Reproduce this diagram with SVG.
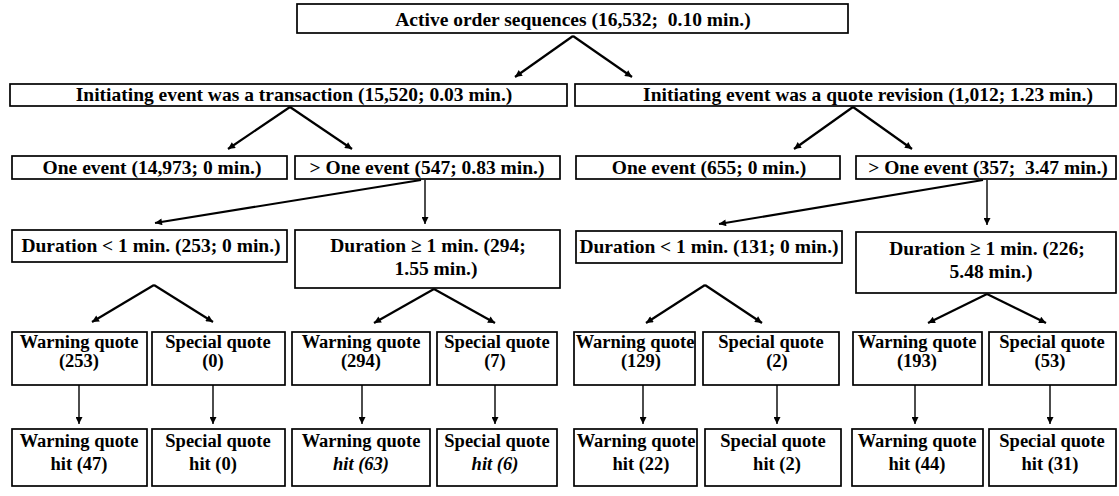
<svg xmlns="http://www.w3.org/2000/svg" width="1119" height="496" viewBox="0 0 1119 496">
<style>
.b{fill:#fff;stroke:#000;stroke-width:1.7}
text{font-family:"Liberation Serif","Times New Roman",serif;font-weight:bold;font-size:19.5px;fill:#000;text-anchor:middle}
.s text{font-size:18.5px}
.it{font-style:italic}
.c{fill:none;stroke:#000;stroke-width:2.2}
.v{fill:none;stroke:#000;stroke-width:1.4}
</style>
<defs>
<marker id="ah" viewBox="0 0 10 10" refX="10" refY="5" markerWidth="8" markerHeight="7" markerUnits="userSpaceOnUse" orient="auto">
<path d="M0,0 L10,5 L0,10 z" fill="#000"/>
</marker>
</defs>
<rect width="1119" height="496" fill="#fff"/>

<g id="connectors">
<path class="c" marker-end="url(#ah)" d="M573,36 L515,77"/>
<path class="c" marker-end="url(#ah)" d="M573,36 L632,77"/>
<path class="c" marker-end="url(#ah)" d="M290,107 L228,149"/>
<path class="c" marker-end="url(#ah)" d="M290,107 L352,149"/>
<path class="c" marker-end="url(#ah)" d="M853,107 L794,149"/>
<path class="c" marker-end="url(#ah)" d="M853,107 L912,149"/>
<path class="c" marker-end="url(#ah)" d="M421,180 L155,223"/>
<path class="v" marker-end="url(#ah)" d="M425,180 L425,224"/>
<path class="c" marker-end="url(#ah)" d="M983,180 L719,224"/>
<path class="v" marker-end="url(#ah)" d="M987,180 L987,225"/>
<path class="c" marker-end="url(#ah)" d="M154,285 L92,322"/>
<path class="c" marker-end="url(#ah)" d="M154,285 L213,322"/>
<path class="c" marker-end="url(#ah)" d="M434,289 L374,323"/>
<path class="c" marker-end="url(#ah)" d="M434,289 L495,323"/>
<path class="c" marker-end="url(#ah)" d="M705,285 L646,323"/>
<path class="c" marker-end="url(#ah)" d="M705,285 L762,323"/>
<path class="c" marker-end="url(#ah)" d="M987,294 L928,323"/>
<path class="c" marker-end="url(#ah)" d="M987,294 L1046,323"/>
<path class="v" marker-end="url(#ah)" d="M79,385 L79,424"/>
<path class="v" marker-end="url(#ah)" d="M213,385 L213,424"/>
<path class="v" marker-end="url(#ah)" d="M362,385 L362,424"/>
<path class="v" marker-end="url(#ah)" d="M495,385 L495,424"/>
<path class="v" marker-end="url(#ah)" d="M643,385 L643,424"/>
<path class="v" marker-end="url(#ah)" d="M777,385 L777,424"/>
<path class="v" marker-end="url(#ah)" d="M915,385 L915,424"/>
<path class="v" marker-end="url(#ah)" d="M1050,385 L1050,424"/>
</g>

<g id="n-root"><rect class="b" x="297" y="4" width="551" height="29"/><text x="573" y="26">Active order sequences (16,532;&#160; 0.10 min.)</text></g>

<g id="n-trans"><rect class="b" x="10" y="84" width="557" height="22"/><text x="294" y="101">Initiating event was a transaction (15,520; 0.03 min.)</text></g>
<g id="n-quote"><rect class="b" x="575" y="84" width="541" height="22"/><text x="868" y="101">Initiating event was a quote revision (1,012; 1.23 min.)</text></g>

<g id="n-t-one"><rect class="b" x="12" y="156" width="275" height="23"/><text x="152" y="174">One event (14,973; 0 min.)</text></g>
<g id="n-t-more"><rect class="b" x="295" y="156" width="265" height="23"/><text x="427" y="174">&gt; One event (547; 0.83 min.)</text></g>
<g id="n-q-one"><rect class="b" x="576" y="156" width="264" height="23"/><text x="709" y="174">One event (655; 0 min.)</text></g>
<g id="n-q-more"><rect class="b" x="856" y="156" width="260" height="23"/><text x="988" y="174">&gt; One event (357;&#160; 3.47 min.)</text></g>

<g id="n-t-short"><rect class="b" x="12" y="230" width="275" height="32"/><text x="151" y="252">Duration &lt; 1 min. (253; 0 min.)</text></g>
<g id="n-t-long"><rect class="b" x="295" y="230" width="265" height="58"/><text x="428" y="252">Duration ≥ 1 min. (294;</text><text x="436" y="275">1.55 min.)</text></g>
<g id="n-q-short"><rect class="b" x="576" y="231" width="266" height="32"/><text x="709" y="253">Duration &lt; 1 min. (131; 0 min.)</text></g>
<g id="n-q-long"><rect class="b" x="856" y="232" width="260" height="61"/><text x="987" y="255">Duration ≥ 1 min. (226;</text><text x="991" y="278">5.48 min.)</text></g>

<g class="s">
<g id="n-w1"><rect class="b" x="12" y="332" width="135" height="53"/><text x="79" y="348">Warning quote</text><text x="79" y="367">(253)</text></g>
<g id="n-s1"><rect class="b" x="152" y="332" width="133" height="53"/><text x="218" y="348">Special quote</text><text x="213" y="367">(0)</text></g>
<g id="n-w2"><rect class="b" x="292" y="332" width="138" height="53"/><text x="361" y="348">Warning quote</text><text x="361" y="367">(294)</text></g>
<g id="n-s2"><rect class="b" x="437" y="332" width="120" height="53"/><text x="497" y="348">Special quote</text><text x="495" y="367">(7)</text></g>
<g id="n-w3"><rect class="b" x="574" y="332" width="121" height="53"/><text x="635" y="348">Warning quote</text><text x="641" y="367">(129)</text></g>
<g id="n-s3"><rect class="b" x="703" y="332" width="136" height="53"/><text x="771" y="348">Special quote</text><text x="777" y="367">(2)</text></g>
<g id="n-w4"><rect class="b" x="853" y="332" width="129" height="53"/><text x="917" y="348">Warning quote</text><text x="917" y="367">(193)</text></g>
<g id="n-s4"><rect class="b" x="989" y="332" width="127" height="53"/><text x="1052" y="348">Special quote</text><text x="1050" y="367">(53)</text></g>

<g id="n-wh1"><rect class="b" x="12" y="429" width="135" height="57"/><text x="79" y="447">Warning quote</text><text x="79" y="470">hit (47)</text></g>
<g id="n-sh1"><rect class="b" x="152" y="429" width="133" height="57"/><text x="218" y="447">Special quote</text><text x="213" y="470">hit (0)</text></g>
<g id="n-wh2"><rect class="b" x="292" y="429" width="138" height="57"/><text x="361" y="447">Warning quote</text><text class="it" x="361" y="470">hit (63)</text></g>
<g id="n-sh2"><rect class="b" x="437" y="429" width="120" height="57"/><text x="497" y="447">Special quote</text><text class="it" x="495" y="470">hit (6)</text></g>
<g id="n-wh3"><rect class="b" x="574" y="429" width="123" height="57"/><text x="636" y="447">Warning quote</text><text x="641" y="470">hit (22)</text></g>
<g id="n-sh3"><rect class="b" x="705" y="429" width="136" height="57"/><text x="773" y="447">Special quote</text><text x="777" y="470">hit (2)</text></g>
<g id="n-wh4"><rect class="b" x="852" y="429" width="131" height="57"/><text x="917" y="447">Warning quote</text><text x="917" y="470">hit (44)</text></g>
<g id="n-sh4"><rect class="b" x="989" y="429" width="127" height="57"/><text x="1052" y="447">Special quote</text><text x="1050" y="470">hit (31)</text></g>
</g>
</svg>
